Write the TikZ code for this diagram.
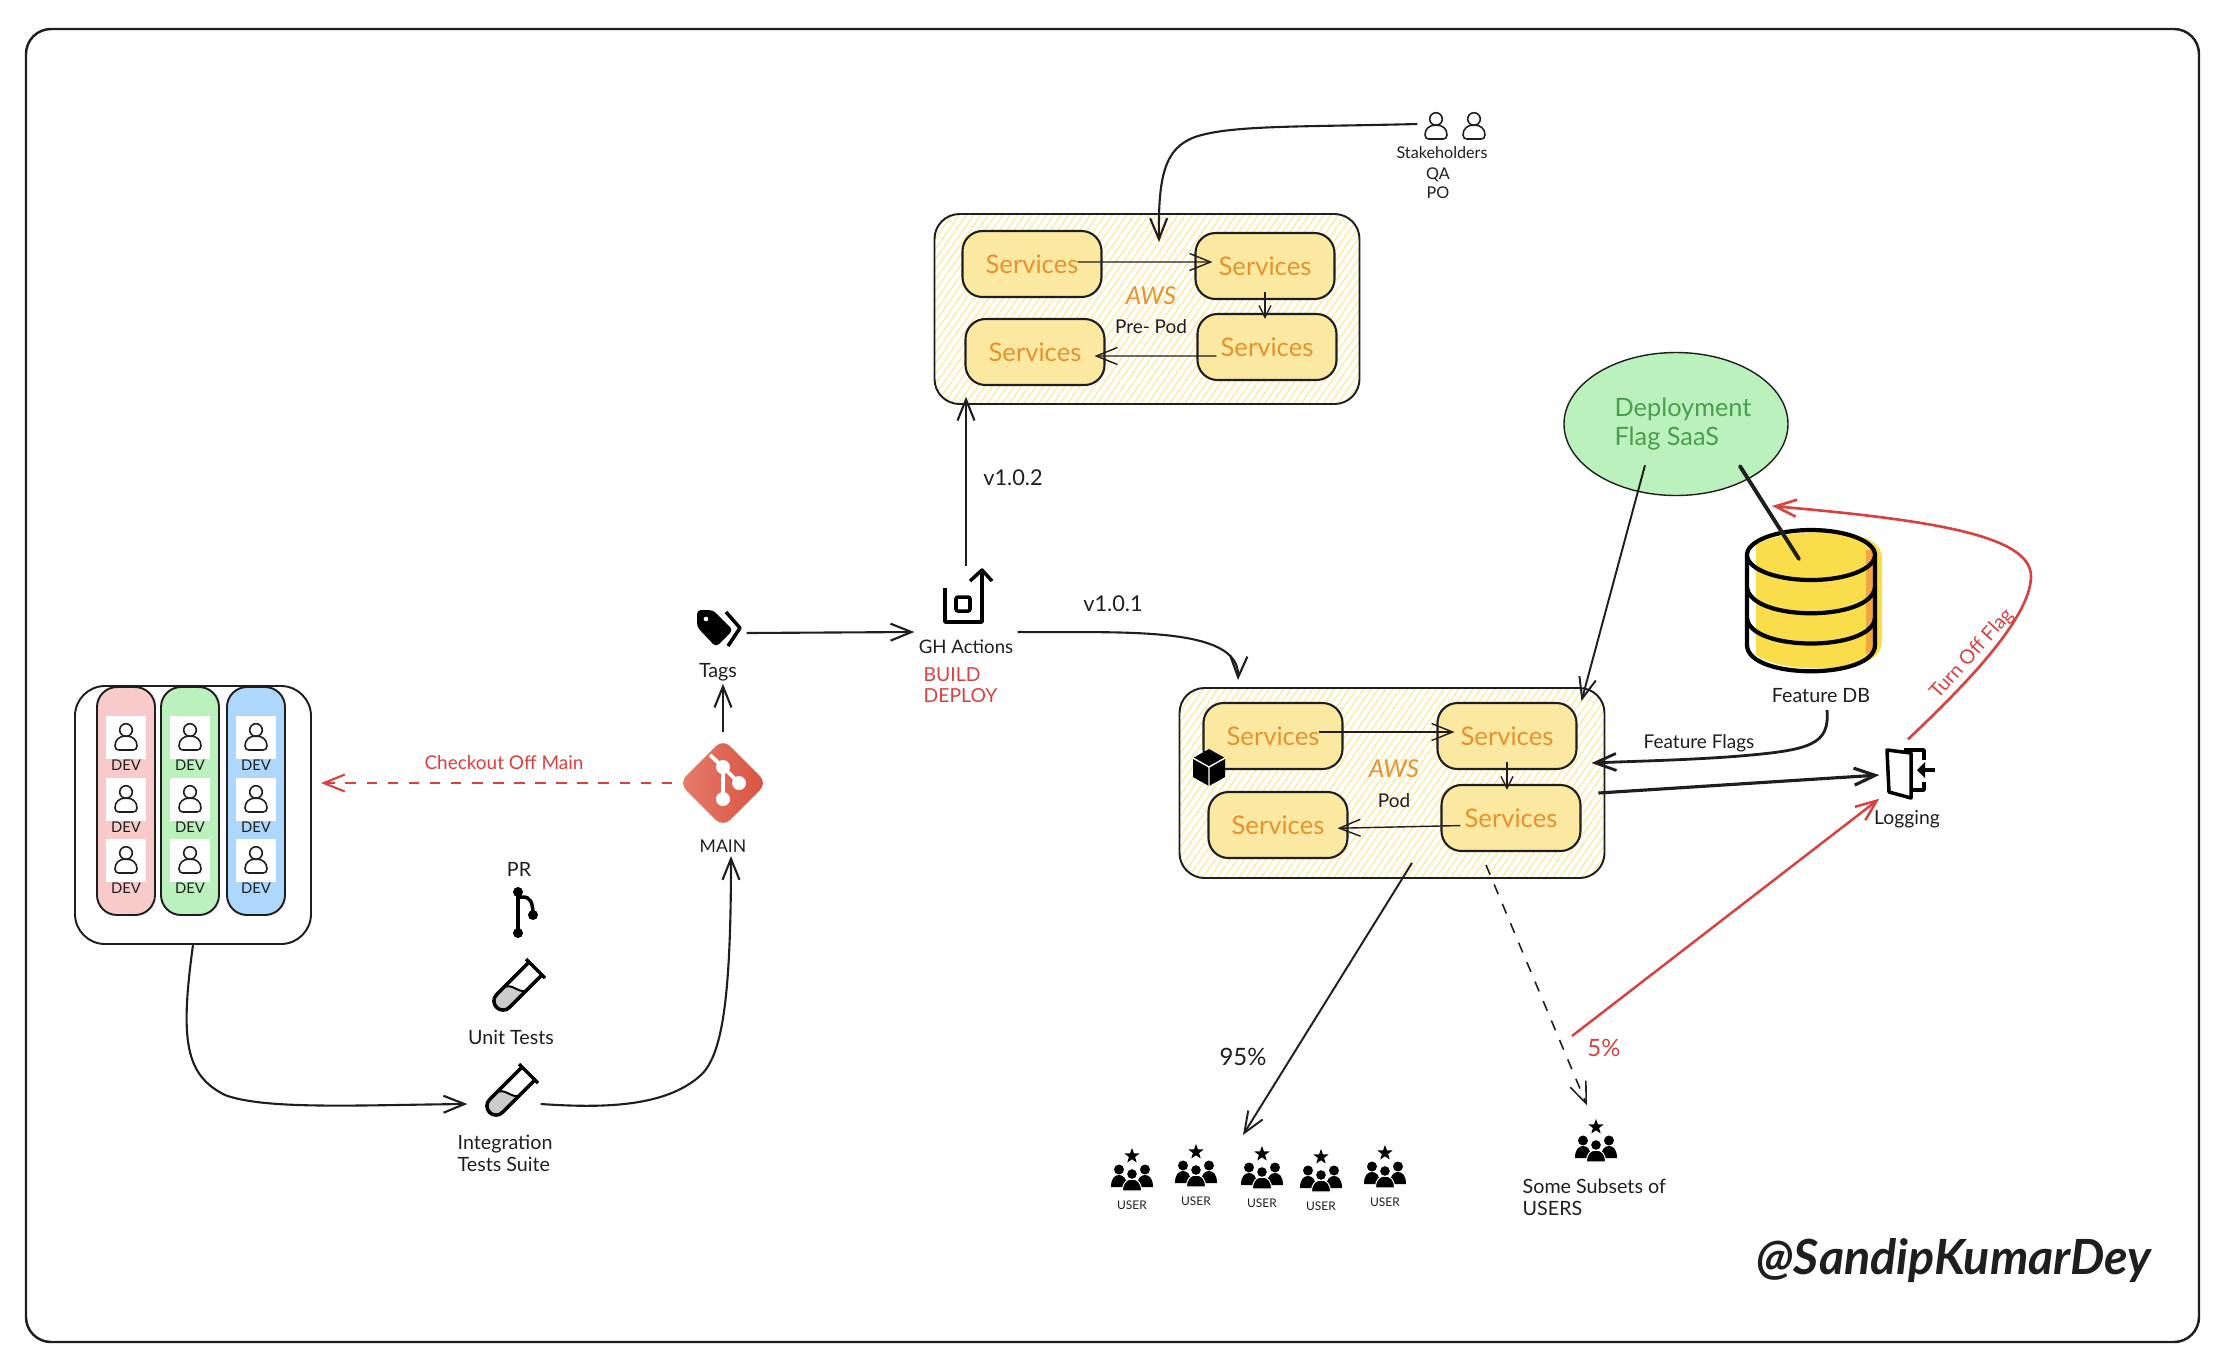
\documentclass[tikz,border=0pt]{standalone}
\usepackage{fontspec}
\setmainfont{Lato}
\usetikzlibrary{positioning,arrows.meta,patterns.meta,shapes.geometric}
\definecolor{ink}{HTML}{1E1E1E}
\definecolor{redink}{HTML}{D94040}
\definecolor{orangeink}{HTML}{E8922E}
\definecolor{greenink}{HTML}{4A9F4E}
\definecolor{svcfill}{HTML}{FBE9A2}
\definecolor{hatch}{HTML}{FCEBA6}
\definecolor{devred}{HTML}{F8CACA}
\definecolor{devgreen}{HTML}{BBF1BD}
\definecolor{devblue}{HTML}{AED7FD}
\definecolor{dbyellow}{HTML}{F9DD4A}
\definecolor{dborange}{HTML}{F0A63A}
\definecolor{gitlight}{HTML}{E67C6C}
\definecolor{gitdark}{HTML}{D8523F}
\tikzset{
	lbl/.style={inner sep=0pt,text=ink,font=\fontsize{5.6}{6.3}\selectfont},
	redlbl/.style={lbl,text=redink},
	hitbox/.style={inner sep=0pt,minimum width=#1},
	svc/.style={draw=ink,fill=svcfill,rounded corners=2mm,line width=0.6pt,minimum width=13.9mm,minimum height=6.6mm,inner sep=0pt,text=orangeink,font=\fontsize{7.3}{8}\selectfont},
	podbox/.style={draw=ink,rounded corners=2.5mm,line width=0.55pt,minimum width=42.5mm,minimum height=19mm,pattern={Lines[angle=55,distance=1.7pt,line width=0.4pt]},pattern color=hatch},
	link/.style={->,draw=ink,line width=0.6pt},
	thinlink/.style={->,draw=ink,line width=0.4pt},
	redlink/.style={->,draw=redink,line width=0.7pt},
	person/.pic={
		\draw[ink,line width=0.45pt] (0,-7) circle (6.3);
		\draw[ink,line width=0.45pt] (0,-1) .. controls (-7,-1) and (-11,3) .. (-11,9) .. controls (-11,12) and (-9,13) .. (-7,13) -- (7,13) .. controls (9,13) and (11,12) .. (11,9) .. controls (11,3) and (7,-1) .. (0,-1) -- cycle;
	},
	tube/.pic={
		\fill[black!20] (-13,3) .. controls (-5,-3) and (2,8) .. (10,6) -- (-6.6,22.4) .. controls (-10,26) and (-15.8,26) .. (-19.4,22.4) .. controls (-23,18.8) and (-23,13) .. (-19.4,9.6) -- cycle;
		\draw[black,line width=0.55pt] (-13,3) .. controls (-5,-3) and (2,8) .. (10,6);
		\draw[black,line width=1pt,line join=round] (13.6,-23.4) -- (-19.4,9.6) .. controls (-23,13) and (-23,18.8) .. (-19.4,22.4) .. controls (-15.8,26) and (-10,26) .. (-6.6,22.4) -- (26.4,-10.6);
		\draw[black,line width=1pt,line join=round] (10,-26) -- (29,-7);
	},
	crowd/.pic={
		\fill[black] (0,-8) -- (1.9,-2.7) -- (7.6,-2.5) -- (3.1,1) -- (4.7,6.5) -- (0,3.3) -- (-4.7,6.5) -- (-3.1,1) -- (-7.6,-2.5) -- (-1.9,-2.7) -- cycle;
		\foreach \px in {-13,13} {
			\fill[black] (\px,13.5) circle (5);
			\fill[black] (\px-8,31) .. controls (\px-8,22) and (\px-4,19) .. (\px,19) .. controls (\px+4,19) and (\px+8,22) .. (\px+8,31) -- cycle;
		}
		\filldraw[fill=black,draw=white,line width=0.3pt] (-9.5,35) .. controls (-9.5,26) and (-5,23) .. (0,23) .. controls (5,23) and (9.5,26) .. (9.5,35) -- cycle;
		\filldraw[fill=black,draw=white,line width=0.3pt] (0,18) circle (5.5);
	},
}
\begin{document}
\begin{tikzpicture}[x=0.1mm,y=-0.1mm,>={Straight Barb[length=2.1mm,width=1.7mm]}]
	\useasboundingbox (0,0) rectangle (2222,1366);
	\draw[ink,line width=0.7pt,rounded corners=2.5mm] (26,29) rectangle (2199,1342);

	% DEVS
	\node[draw=ink,line width=0.55pt,rounded corners=3mm,minimum width=23.6mm,minimum height=25.8mm] (devs) at (193,815) {};
	\foreach \cx/\cc in {126/devred,190/devgreen,256/devblue} {
		\node[draw=ink,fill=\cc,line width=0.55pt,rounded corners=2mm,minimum width=5.8mm,minimum height=22.8mm] (col\cc) at (\cx,801) {};
		\foreach \ry in {737,799,860} {
			\node[fill=white,minimum width=4mm,minimum height=4.3mm,inner sep=0pt] (card\cc\ry) at (\cx,\ry) {};
			\pic at (\cx,\ry) {person};
			\node[lbl,font=\fontsize{4.2}{5}\selectfont] (dev\cc\ry) at (\cx,\ry+28) {DEV};
		}
	}

	% MAIN
	\node[hitbox=10mm,minimum height=10mm] (main) at (723,783) {};
	\shade[left color=gitlight,right color=gitdark,rounded corners=1mm] (723,739) -- (767,783) -- (723,827) -- (679,783) -- cycle;
	\draw[white,line width=1.1pt] (710,755) -- (723,767) -- (723,799);
	\draw[white,line width=1.1pt] (723,767) -- (739,783);
	\fill[white] (723,767) circle (7) (739,783) circle (7) (723,799) circle (7);
	\node[lbl,font=\fontsize{5}{6}\selectfont] (mainlabel) at (723,846) {MAIN};

	% TAGS
	\node[hitbox=5.4mm,minimum height=10mm] (tags) at (719,633) {};
	\fill[black,rounded corners=0.4mm,even odd rule] (697,610) -- (713,610) -- (733,630) -- (716,647) -- (697,627) -- cycle (706,619) circle (2.5);
	\draw[black,line width=1pt,line join=round] (726,612) -- (740,628) -- (728,646);
	\node[lbl] (tagslabel) at (718,672) {Tags};

	% GH ACTIONS
	\node[hitbox=10.2mm,minimum height=13mm] (gh) at (966,632) {};
	\draw[black,line width=1pt,line join=round] (945,588) -- (945,622) -- (982,622) -- (982,572);
	\draw[black,line width=1pt,line join=round] (970,581) -- (982,570) -- (992,581);
	\draw[black,line width=1pt,rounded corners=0.2mm] (956,597) rectangle (970,611);
	\node[lbl,font=\fontsize{5.3}{6}\selectfont] (ghlabel) at (966,647) {GH Actions};
	\node[redlbl,anchor=west,align=left,font=\fontsize{5.5}{6}\selectfont] (ghjobs) at (923,685) {BUILD\\DEPLOY};

	% PRE POD
	\node[podbox] (prepod) at (1147,309) {};
	\node[svc] (preA) at (1032,264) {Services};
	\node[svc] (preB) at (1265,266) {Services};
	\node[svc] (preC) at (1035,352) {Services};
	\node[svc] (preD) at (1267,347) {Services};
	\node[lbl,text=orangeink,font=\fontsize{7}{8}\selectfont\itshape] (preaws) at (1151,296) {AWS};
	\node[lbl,font=\fontsize{5.4}{6}\selectfont] (prename) at (1151,327) {Pre- Pod};

	% STAKEHOLDERS
	\node[hitbox=8mm,minimum height=2.8mm] (stake) at (1458,124) {};
	\pic at (1436,126) {person};
	\pic at (1474,126) {person};
	\node[lbl,font=\fontsize{4.6}{5}\selectfont] (stakelabel) at (1442,153) {Stakeholders};
	\node[lbl,font=\fontsize{4.6}{5}\selectfont] (qa) at (1438,175) {QA};
	\node[lbl,font=\fontsize{4.6}{5}\selectfont] (po) at (1438,193) {PO};

	% POD
	\node[podbox] (pod) at (1392,783) {};
	\node[svc] (podA) at (1273,736) {Services};
	\node[svc] (podB) at (1507,736) {Services};
	\node[svc] (podC) at (1278,825) {Services};
	\node[svc] (podD) at (1511,818) {Services};
	\node[lbl,text=orangeink,font=\fontsize{7}{8}\selectfont\itshape] (podaws) at (1394,769) {AWS};
	\node[lbl,font=\fontsize{5.4}{6}\selectfont] (podname) at (1394,801) {Pod};
	\fill[black] (1209,749) -- (1225,758) -- (1225,777) -- (1209,786) -- (1193,777) -- (1193,758) -- cycle;
	\draw[white,line width=0.4pt] (1193,758) -- (1209,767) -- (1225,758) (1209,767) -- (1209,786);

	% FLAGS
	\node[ellipse,draw=ink,fill=devgreen,line width=0.4pt,minimum width=22.4mm,minimum height=14.3mm,inner sep=0pt] (saas) at (1676,424) {};
	\node[lbl,align=left,text=greenink,font=\fontsize{7.2}{8.3}\selectfont] (saaslabel) at (1683,424) {Deployment\\Flag SaaS};
	\node[hitbox=13mm,minimum height=14.3mm] (db) at (1810,600) {};
	\fill[dbyellow] (1756,545) .. controls (1780,530) and (1840,528) .. (1870,540) .. controls (1878,545) and (1882,550) .. (1882,558) -- (1882,640) .. controls (1882,650) and (1878,655) .. (1870,660) .. controls (1840,672) and (1780,672) .. (1756,655) -- cycle;
	\fill[dborange] (1866,550) -- (1874,550) -- (1874,650) -- (1866,654) -- cycle;
	\draw[black,line width=1.2pt] (1811,555) ellipse (64 and 25);
	\draw[black,line width=1.2pt] (1747,555) -- (1747,645) .. controls (1747,680) and (1875,680) .. (1875,645) -- (1875,555);
	\draw[black,line width=1.2pt] (1747,587) .. controls (1750,622) and (1872,622) .. (1875,587);
	\draw[black,line width=1.2pt] (1747,618) .. controls (1750,652) and (1872,652) .. (1875,618);
	\node[lbl] (dblabel) at (1821,696) {Feature DB};
	\node[lbl,font=\fontsize{5.4}{6}\selectfont] (flagslabel) at (1699,743) {Feature Flags};

	% LOGGING
	\node[hitbox=5.6mm,minimum height=7mm] (logging) at (1908,775) {};
	\begin{scope}[shift={(1908,775)}]
		\draw[black,line width=1pt,line join=round] (-21,-25) -- (3,-22) -- (3,23) -- (-19,17) -- cycle;
		\draw[black,line width=1pt,line join=round] (-4,-25) -- (16,-25) -- (16,-15);
		\draw[black,line width=1pt,line join=round] (16,7) -- (16,15) -- (3,15);
		\draw[black,line width=1pt] (27,-5) -- (14,-5);
		\fill[black] (9,-5) -- (17,-13) -- (17,3) -- cycle;
	\end{scope}
	\node[lbl,font=\fontsize{5.5}{6}\selectfont] (logginglabel) at (1907,819) {Logging};

	% TESTS
	\node[lbl] (prlabel) at (519,869) {PR};
	\fill[black] (518,892) circle (5) (518,933) circle (5) (533,915) circle (5);
	\draw[black,line width=1pt] (518,892) -- (518,933);
	\draw[black,line width=1pt] (518,897) -- (523,897) .. controls (530,897) and (533,902) .. (533,915);
	\pic at (516,985) {tube};
	\node[lbl] (unitlabel) at (511,1037) {Unit Tests};
	\node[hitbox=7.2mm,minimum height=6mm] (integration) at (504,1104) {};
	\pic at (509,1090) {tube};
	\node[lbl,anchor=north west,align=left] (integrationlabel) at (457,1134) {Integration\\Tests Suite};

	% USERS
	\foreach \ux/\uy/\un in {1132/1156/a,1196/1152/b,1262/1154/c,1321/1157/d,1385/1153/e} {
		\pic at (\ux,\uy) {crowd};
		\node[lbl,font=\fontsize{3.4}{4}\selectfont] (user\un) at (\ux,\uy+49) {USER};
	}
	\node[hitbox=6mm,minimum height=7.8mm] (subset) at (1596,1145) {};
	\pic at (1596,1127) {crowd};
	\node[lbl,anchor=north west,align=left] (subsetlabel) at (1522,1178) {Some Subsets of\\USERS};
	\coordinate (crowdTop) at (1243,1135);
	\coordinate (preTop) at (1159,242);
	\coordinate (fivePct) at (1572,1036);
	\coordinate (flagOff) at (1772,506);

	% LINKS
	\draw[->,redink,dashed,line width=0.6pt,shorten >=0.9mm] (main.west) -- (main.west -| devs.east);
	\node[redlbl,font=\fontsize{5.4}{6}\selectfont] (checkout) at (504,763) {Checkout Off Main};
	\draw[link] (devs.south) .. controls (180,1040) and (185,1075) .. (225,1095) .. controls (265,1110) and (360,1105) .. (integration.west);
	\draw[link] (integration.east) .. controls (600,1108) and (665,1108) .. (701,1075) .. controls (722,1055) and (731,1000) .. ([xshift=0.8mm,yshift=-0.3mm]mainlabel.south);
	\draw[link] (main.north) -- (main.north |- tags.south);
	\draw[link] (tags.east) -- (gh.west);
	\draw[link,shorten >=-0.8mm] (gh.north) -- (gh.north |- prepod.south);
	\node[lbl,font=\fontsize{6.2}{7}\selectfont] (prever) at (1013,478) {v1.0.2};
	\draw[link] (gh.east) .. controls (1120,633) and (1240,625) .. ([xshift=-15.4mm,yshift=0.7mm]pod.north);
	\node[lbl,font=\fontsize{6.2}{7}\selectfont] (podver) at (1113,604) {v1.0.1};
	\draw[link] (stake.west) .. controls (1300,127) and (1230,125) .. (1195,137) .. controls (1165,148) and (1158,175) .. (preTop);
	\draw[thinlink,shorten <=-2.5mm,shorten >=-1.8mm] ([yshift=0.2mm]preA.east) -- ([yshift=0.4mm]preB.west);
	\draw[thinlink,shorten <=-0.8mm,shorten >=-0.6mm,>={Straight Barb[length=1.2mm,width=1.2mm]}] (preB.south) -- (preB.south |- preD.north);
	\draw[thinlink,shorten <=-2mm,shorten >=-1.1mm] ([yshift=-0.9mm]preD.west) -- ([yshift=-0.4mm]preC.east);
	\draw[thinlink,shorten <=-2.5mm,shorten >=-1.8mm] ([yshift=0.4mm]podA.east) -- ([yshift=0.4mm]podB.west);
	\draw[thinlink,shorten <=-0.8mm,shorten >=-0.6mm,>={Straight Barb[length=1.2mm,width=1.2mm]}] (podB.south) -- (podB.south |- podD.north);
	\draw[thinlink,shorten <=-2mm,shorten >=-1.1mm] ([yshift=-0.8mm]podD.west) -- ([yshift=-0.3mm]podC.east);
	\draw[->,draw=ink,line width=0.55pt] ([shift={(-3.1mm,3.1mm)}]saas.south) -- ([shift={(-2.4mm,-1.4mm)}]pod.north east);
	\draw[ink,line width=1.1pt,line cap=round] ([shift={(6.4mm,3mm)}]saas.south) -- ([shift={(-1.1mm,4.1mm)}]db.center);
	\draw[link,line width=0.8pt] (dblabel.south) ++(0.6mm,-0.6mm) .. controls (1830,745) and (1810,750) .. (1740,756) .. controls (1690,760) and (1640,761) .. ([shift={(-1.4mm,2mm)}]pod.east);
	\draw[link,line width=0.9pt] ([shift={(-0.7mm,-1mm)}]pod.east) -- (logging.west);
	\draw[link,line width=0.55pt] ([shift={(2mm,1.6mm)}]pod.south) -- (crowdTop);
	\node[lbl,font=\fontsize{6.8}{8}\selectfont] (bigshare) at (1243,1057) {95\%};
	\draw[link,line width=0.45pt,dashed] ([shift={(9.4mm,1.4mm)}]pod.south) -- ([xshift=-0.9mm]subset.north);
	\node[redlbl,font=\fontsize{6.8}{8}\selectfont] (smallshare) at (1604,1048) {5\%};
	\draw[redlink] (fivePct) -- ([yshift=1.2mm]logging.south west);
	\draw[redlink,line width=0.75pt] (logging.north) .. controls (1960,690) and (2030,620) .. (2031,577) .. controls (2032,535) and (1930,520) .. (flagOff);
	\node[redlbl,rotate=48,font=\fontsize{5.6}{6}\selectfont] (turnoff) at (1972,654) {Turn Off Flag};

	% SIGNATURE
	\node[lbl,font=\fontsize{13.8}{16}\selectfont\bfseries\itshape] (signature) at (1954,1261) {@SandipKumarDey};
\end{tikzpicture}
\end{document}
